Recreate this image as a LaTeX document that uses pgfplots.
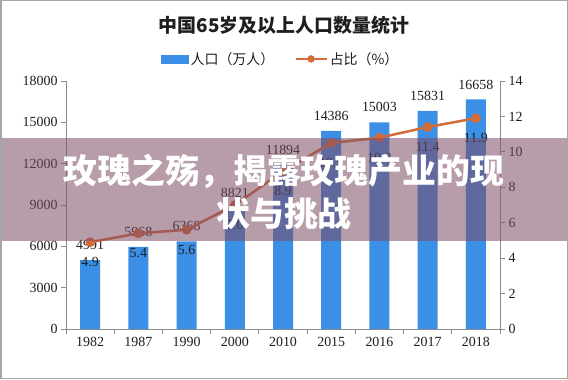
\documentclass[border=0pt]{standalone}
\usepackage{fontspec}
\setmainfont{Liberation Serif}
\newfontfamily\cjk{Noto Sans CJK SC}
\usepackage{pgfplots}
\pgfplotsset{compat=1.18}
\definecolor{barblue}{RGB}{59,143,229}
\definecolor{linecol}{RGB}{212,108,58}
\definecolor{axgray}{RGB}{140,140,140}
\definecolor{bandcol}{RGB}{125,75,100}
\definecolor{txt}{RGB}{30,30,30}
\begin{document}
\begin{tikzpicture}[x=1bp,y=1bp]
\path[use as bounding box] (0,0) rectangle (568,379);
\fill[white] (0,0) rectangle (568,379);
\pgfplotsset{
  base/.style={
    at={(66bp,50bp)}, anchor=south west, scale only axis,
    width=434bp, height=248bp,
    xmin=-0.5, xmax=8.5,
    axis line style={axgray, line width=0.8bp, -},
    tick align=outside,
    tick style={axgray, line width=0.8bp},
    major tick length=5bp, minor tick length=5bp,
    tick label style={font=\fontsize{14}{14}\selectfont, text=txt},
    /pgf/number format/assume math mode=true,
    /pgf/number format/1000 sep={},
    scaled y ticks=false,
  }
}
\begin{axis}[base,
  ymin=0, ymax=18000,
  axis y line*=left, axis x line*=bottom,
  xtick={0,...,8},
  xticklabels={1982,1987,1990,2000,2010,2015,2016,2017,2018},
  major x tick style={draw=none},
  minor xtick={-0.5,0.5,...,8.5},
  ytick={0,3000,...,18000},
]
\addplot[ybar, bar width=20bp, fill=barblue, draw=none,
  nodes near coords, point meta=explicit symbolic,
  every node near coord/.append style={font=\fontsize{14}{14}\selectfont, text=txt, anchor=center, yshift=15bp}]
  coordinates {(0,4991)[4991] (1,5968)[5968] (2,6368)[6368] (3,8821)[8821] (4,11894)[11894]
               (5,14386)[14386] (6,15003)[15003] (7,15831)[15831] (8,16658)[16658]};
\end{axis}
\begin{axis}[base,
  ymin=0, ymax=14,
  axis y line*=right, axis x line=none,
  ytick={0,2,...,14},
  legend style={at={(0.495,1.089)}, anchor=center, draw=none, fill=none,
    legend columns=2, font=\cjk\fontsize{14}{14}\selectfont, text=txt,
    /tikz/every even column/.append style={column sep=18bp}},
]
\addplot[linecol, line width=2.5bp, mark=*, mark size=3.5bp,
  mark options={fill=linecol, draw=linecol},
  nodes near coords, point meta=explicit symbolic,
  every node near coord/.append style={font=\fontsize{14}{14}\selectfont, text=txt, anchor=center, yshift=-20bp}, forget plot]
  coordinates {(0,4.9)[4.9] (1,5.4)[5.4] (2,5.6)[5.6] (3,7.0)[7.0] (4,8.9)[8.9]
               (5,10.5)[10.5] (6,10.8)[10.8] (7,11.4)[11.4] (8,11.9)[11.9]};
\addlegendimage{legend image code/.code={\fill[barblue] (0bp,-4bp) rectangle (27bp,4bp);}}
\addlegendentry{人口（万人）}
\addlegendimage{legend image code/.code={\draw[linecol, line width=2.5bp] (0bp,0bp) -- (31bp,0bp); \fill[linecol] (15.5bp,0bp) circle (3.5bp);}}
\addlegendentry{占比（\%）}
\end{axis}
\node[font=\cjk\bfseries\fontsize{19}{19}\selectfont, text=txt] at (284,354) {中国65岁及以上人口数量统计};
\fill[bandcol, opacity=0.55] (0,138) rectangle (568,241);
\node[font=\cjk\bfseries\fontsize{34}{43}\selectfont, text=white, align=center] at (284,187.5) {玫瑰之殇，揭露玫瑰产业的现\\状与挑战};
\draw[gray!70, line width=1.5bp] (0.75,0.75) rectangle (567.25,378.25);
\end{tikzpicture}
\end{document}
